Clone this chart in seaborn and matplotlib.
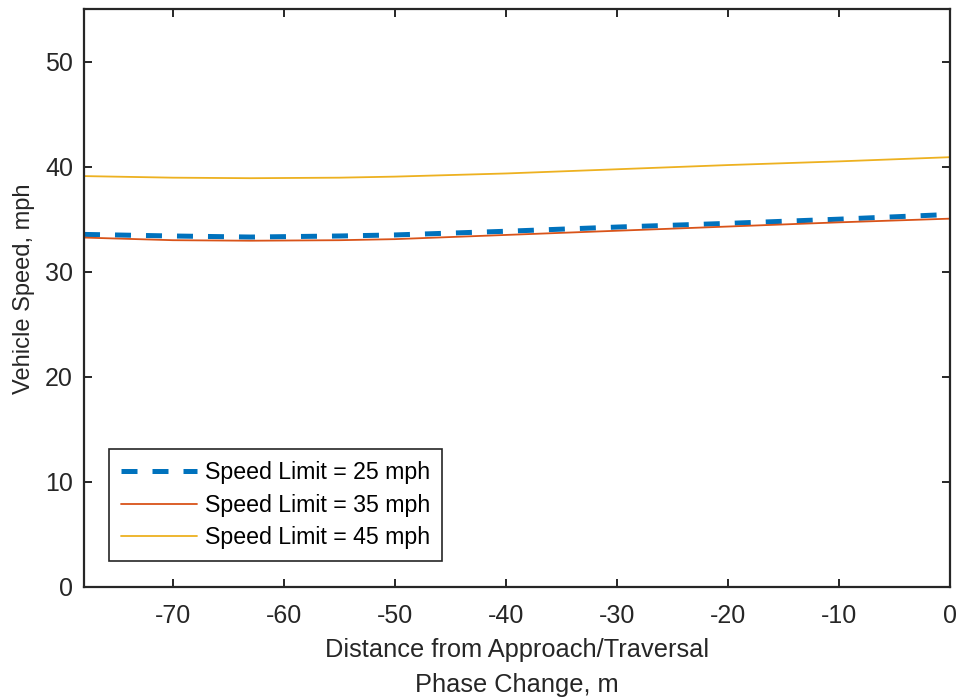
import matplotlib
matplotlib.use("Agg")
import matplotlib.pyplot as plt
import seaborn as sns
import pandas as pd

# Distance from the approach/traversal phase change (m)
distance = [-78, -70, -63, -55, -50, -40, -30, -20, -10, 0]

# Mean vehicle speed (mph) for each posted speed limit
speed_25 = [33.55, 33.4, 33.3, 33.4, 33.5, 33.85, 34.25, 34.6, 35.0, 35.45]
speed_35 = [33.25, 33.0, 32.95, 33.0, 33.1, 33.5, 33.9, 34.3, 34.7, 35.05]
speed_45 = [39.1, 38.95, 38.9, 38.95, 39.05, 39.35, 39.75, 40.15, 40.5, 40.9]

labels = ["Speed Limit = 25 mph", "Speed Limit = 35 mph", "Speed Limit = 45 mph"]
colors = ["#0072BD", "#D95319", "#EDB120"]

x_ticks = [-70, -60, -50, -40, -30, -20, -10, 0]
y_ticks = [0, 10, 20, 30, 40, 50]

df = pd.DataFrame({
    "distance": distance * 3,
    "speed": speed_25 + speed_35 + speed_45,
    "series": [labels[0]] * len(distance) + [labels[1]] * len(distance) + [labels[2]] * len(distance),
})

sns.set_theme(style="white")
plt.rcParams["font.family"] = ["Liberation Sans", "DejaVu Sans"]

fig = plt.figure(figsize=(9.59, 6.98), dpi=100)
ax = fig.add_axes([84 / 959, 1 - 587 / 698, (950 - 84) / 959, (587 - 9) / 698])

widths = {labels[0]: 3.6, labels[1]: 1.3, labels[2]: 1.3}
for lab, col in zip(labels, colors):
    sub = df[df["series"] == lab]
    kw = dict(dashes=(3.2, 3.0)) if lab == labels[0] else {}
    sns.lineplot(data=sub, x="distance", y="speed", ax=ax, color=col,
                 linewidth=widths[lab], label=lab, **kw)

ax.set_xlim(-78, 0)
ax.set_ylim(0, 55)
ax.set_xticks(x_ticks)
ax.set_xticklabels([str(t) for t in x_ticks])
ax.set_yticks(y_ticks)
ax.set_yticklabels([str(t) for t in y_ticks])

dark = "#262626"
for s in ax.spines.values():
    s.set_visible(True)
    s.set_color(dark)
    s.set_linewidth(1.6)
ax.tick_params(direction="in", length=6, width=1.4, colors=dark,
               labelsize=18, top=True, right=True, bottom=True, left=True,
               pad=8)
ax.tick_params(axis="x", pad=12)
for lbl in ax.get_xticklabels() + ax.get_yticklabels():
    lbl.set_color(dark)

ax.set_xlabel("Distance from Approach/Traversal\nPhase Change, m", fontsize=18.3,
              color=dark, linespacing=1.6)
ax.xaxis.set_label_coords(0.5, -0.088)
ax.set_ylabel("Vehicle Speed, mph", fontsize=17, color=dark)
ax.yaxis.set_label_coords(-0.0566, 0.516)

leg = ax.legend(loc="lower left", bbox_to_anchor=(0.029, 0.045), fontsize=16.7,
                frameon=True, fancybox=False, framealpha=1, handlelength=3.3,
                borderpad=0.5, labelspacing=0.42, handletextpad=0.35,
                borderaxespad=0)
leg.get_frame().set_edgecolor(dark)
leg.get_frame().set_linewidth(1.2)
for t in leg.get_texts():
    t.set_color("black")

fig.savefig("out.png", dpi=100)
